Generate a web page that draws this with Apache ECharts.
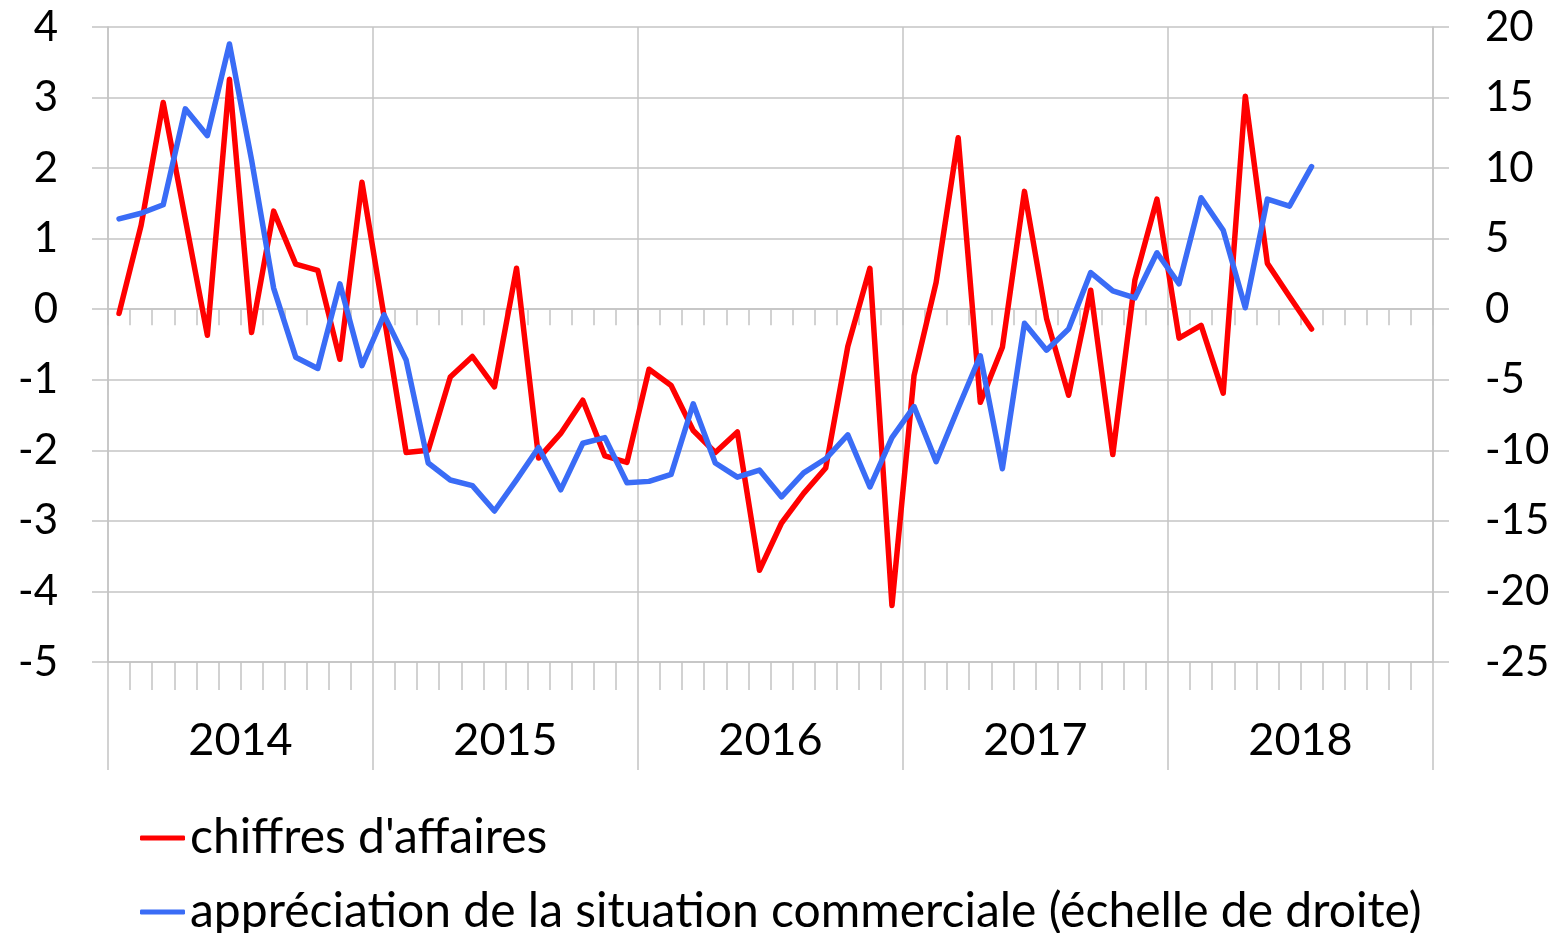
<!DOCTYPE html>
<html>
<head>
<meta charset="utf-8">
<script src="https://cdn.jsdelivr.net/npm/echarts@6/dist/echarts.min.js"></script>
<style>
  html, body { margin: 0; padding: 0; background: #fff; }
  #chart { width: 1558px; height: 933px; }
</style>
</head>
<body>
<div id="chart"></div>
<script>
// years shown on the bottom axis, one band of 12 months each
const years = ['2014', '2015', '2016', '2017', '2018'];

// chiffres d'affaires (left axis), Jan 2014 -> Jul 2018
const chiffres = [
  -0.06, 1.19, 2.93, 1.28, -0.37, 3.26, -0.33, 1.39, 0.64, 0.55, -0.71, 1.80,
  -0.10, -2.03, -2.00, -0.96, -0.67, -1.10, 0.58, -2.11, -1.76, -1.29, -2.08, -2.17,
  -0.85, -1.08, -1.72, -2.03, -1.74, -3.70, -3.03, -2.61, -2.25, -0.53, 0.58, -4.20,
  -0.94, 0.38, 2.43, -1.32, -0.54, 1.67, -0.13, -1.22, 0.27, -2.06, 0.41, 1.56,
  -0.41, -0.23, -1.19, 3.02, 0.65, 0.18, -0.28
];

// appréciation de la situation commerciale (right axis)
const appreciation = [
  6.4, 6.8, 7.4, 14.2, 12.3, 18.8, 10.6, 1.5, -3.4, -4.2, 1.8, -4.0,
  -0.4, -3.6, -10.9, -12.1, -12.5, -14.3, -12.1, -9.8, -12.8, -9.5, -9.1, -12.3,
  -12.2, -11.7, -6.7, -10.9, -11.9, -11.4, -13.3, -11.6, -10.6, -8.9, -12.6, -9.1,
  -6.9, -10.8, -7.0, -3.3, -11.3, -1.0, -2.9, -1.4, 2.6, 1.3, 0.8, 4.0,
  1.8, 7.9, 5.6, 0.1, 7.8, 7.3, 10.1
];

const seriesNames = [
  'chiffres d\'affaires',
  'appréciation de la situation commerciale (échelle de droite)'
];

const months = [];
years.forEach(function (y) {
  for (let m = 1; m <= 12; m++) months.push(y + '-' + (m < 10 ? '0' + m : m));
});

const grey = '#c4c4c4';
const font = 'Lato';

const chart = echarts.init(document.getElementById('chart'));

// one legend per row so both entries stack on the left
function legendRow(name, top) {
  return {
    orient: 'horizontal',
    left: 140,
    top: top,
    padding: 0,
    icon: 'roundRect',
    itemWidth: 45,
    itemHeight: 5,
    textStyle: { fontFamily: font, fontSize: 48, color: '#000', lineHeight: 44 },
    data: [name]
  };
}

const option = {
  animation: false,
  backgroundColor: '#fff',
  textStyle: { fontFamily: font },
  grid: { left: 108, right: 125, top: 27, bottom: 271 },
  legend: [
    legendRow(seriesNames[0], 814),
    legendRow(seriesNames[1], 888)
  ],
  xAxis: [
    {
      // month ticks sitting on the zero line
      type: 'category',
      data: months,
      boundaryGap: true,
      axisLine: { show: true, onZero: true, lineStyle: { color: grey, width: 1.5 } },
      axisTick: { show: true, interval: 0, length: 16, lineStyle: { color: grey, width: 1.5 } },
      axisLabel: { show: false },
      splitLine: { show: false }
    },
    {
      // month ticks at the bottom
      type: 'category',
      data: months,
      position: 'bottom',
      boundaryGap: true,
      axisLine: { show: true, onZero: false, lineStyle: { color: grey, width: 1.5 } },
      axisTick: { show: true, interval: 0, length: 28, lineStyle: { color: grey, width: 1.5 } },
      axisLabel: { show: false },
      splitLine: { show: false }
    },
    {
      // year bands
      type: 'category',
      data: years,
      position: 'bottom',
      boundaryGap: true,
      axisLine: { show: false, onZero: false },
      axisTick: { show: true, interval: 0, length: 108, lineStyle: { color: grey, width: 1.5 } },
      axisLabel: { interval: 0, margin: 56, fontSize: 45, color: '#000', fontFamily: font },
      splitLine: { show: true, interval: 0, lineStyle: { color: grey, width: 1.5 } }
    }
  ],
  yAxis: [
    {
      type: 'value',
      min: -5,
      max: 4,
      interval: 1,
      position: 'left',
      axisLine: { show: true, lineStyle: { color: grey, width: 1.5 } },
      axisTick: { show: true, length: 16, lineStyle: { color: grey, width: 1.5 } },
      axisLabel: { margin: 50, fontSize: 42, color: '#000', fontFamily: font },
      splitLine: { show: true, lineStyle: { color: grey, width: 1.5 } }
    },
    {
      type: 'value',
      min: -25,
      max: 20,
      interval: 5,
      position: 'right',
      axisLine: { show: true, lineStyle: { color: grey, width: 1.5 } },
      axisTick: { show: true, length: 16, lineStyle: { color: grey, width: 1.5 } },
      axisLabel: { margin: 52, fontSize: 42, color: '#000', fontFamily: font },
      splitLine: { show: false }
    }
  ],
  series: [
    {
      name: seriesNames[0],
      type: 'line',
      xAxisIndex: 0,
      yAxisIndex: 0,
      data: chiffres,
      showSymbol: false,
      symbol: 'none',
      lineStyle: { color: '#ff0000', width: 5.5, join: 'round', cap: 'round' },
      itemStyle: { color: '#ff0000' }
    },
    {
      name: seriesNames[1],
      type: 'line',
      xAxisIndex: 0,
      yAxisIndex: 1,
      data: appreciation,
      showSymbol: false,
      symbol: 'none',
      lineStyle: { color: '#3a6cf6', width: 5.5, join: 'round', cap: 'round' },
      itemStyle: { color: '#3a6cf6' }
    }
  ]
};

chart.setOption(option);
</script>
</body>
</html>
